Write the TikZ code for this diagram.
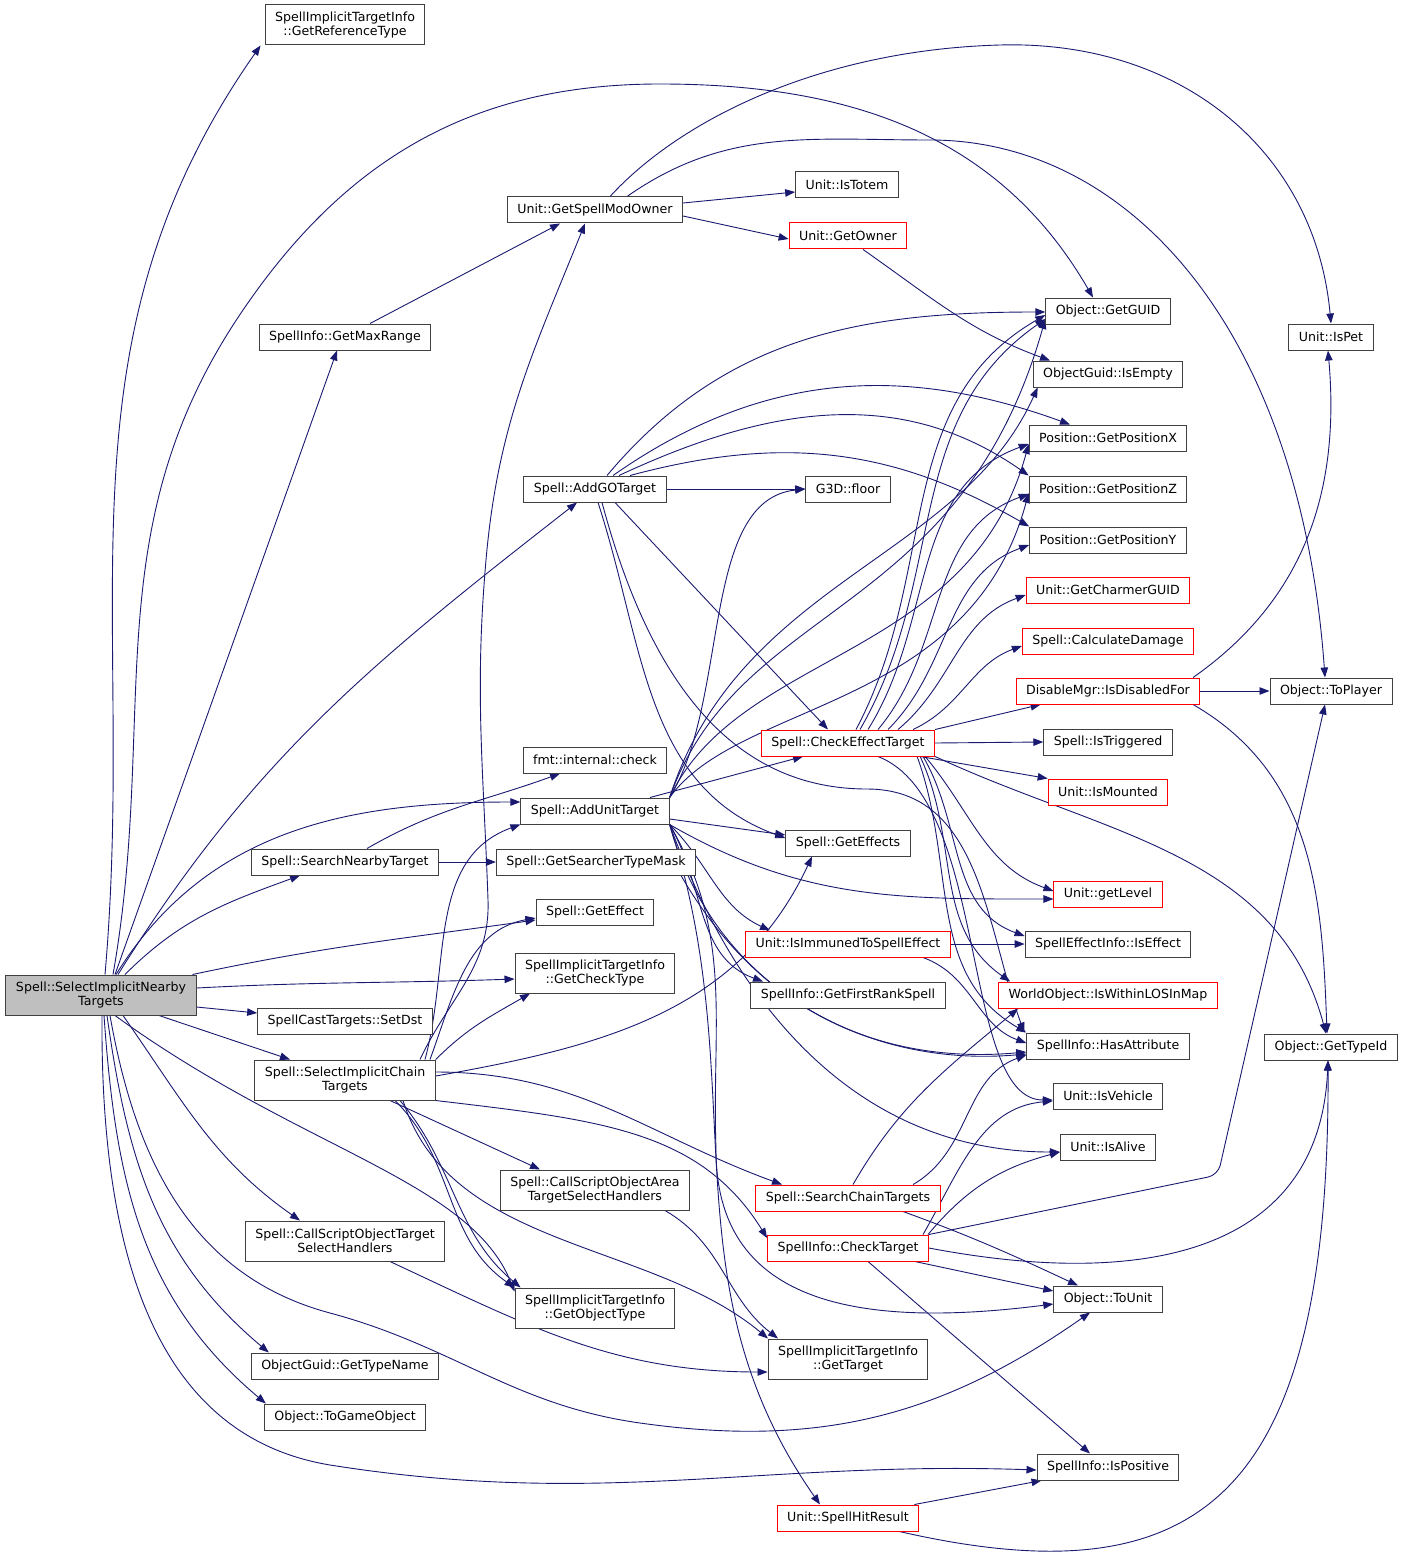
\documentclass[tikz,border=0pt]{standalone}
\usepackage{fontspec}
\setmainfont{DejaVu Sans}
\usetikzlibrary{arrows.meta}
\definecolor{callcol}{RGB}{25,25,112}
\definecolor{boxcol}{RGB}{64,64,64}
\definecolor{selcol}{RGB}{191,191,191}
\pgfdeclarelayer{background}
\pgfsetlayers{background,main}

\begin{document}
\begin{tikzpicture}[
    x=1pt, y=1pt,
    fn/.style={
        draw=boxcol,
        rectangle,
        line width=1pt,
        minimum height=26pt,
        inner xsep=10pt,
        inner ysep=2pt,
        fill=white,
        font=\fontsize{12.6}{14.5}\selectfont
    },
    fnred/.style={fn, draw=red},
    fntwo/.style={fn, align=center, minimum height=40pt},
    call/.style={
        draw=callcol,
        line width=0.9pt,
        -{Triangle[length=10pt,width=7.5pt]}
    },
    every edge/.style={call}
]
\useasboundingbox (0,0) rectangle (1404,-1554);

% Functions
\node[fntwo, fill=selcol] (nearby) at (101,-995) {Spell::SelectImplicitNearby\\Targets};

\node[fntwo] (refType) at (345,-25) {SpellImplicitTargetInfo\\::GetReferenceType};
\node[fn] (maxRange) at (345,-337) {SpellInfo::GetMaxRange};
\node[fn] (searchNearby) at (345,-862) {Spell::SearchNearbyTarget};
\node[fn] (setDst) at (345,-1021) {SpellCastTargets::SetDst};
\node[fntwo] (chainTargets) at (345,-1080) {Spell::SelectImplicitChain\\Targets};
\node[fntwo] (scriptTarget) at (345,-1241) {Spell::CallScriptObjectTarget\\SelectHandlers};
\node[fn] (typeName) at (345,-1366) {ObjectGuid::GetTypeName};
\node[fn] (toGameObject) at (345,-1417) {Object::ToGameObject};

\node[fn] (modOwner) at (595,-210) {Unit::GetSpellModOwner};
\node[fn] (addGO) at (595,-489) {Spell::AddGOTarget};
\node[fn] (fmtCheck) at (595,-760) {fmt::internal::check};
\node[fn] (addUnit) at (595,-811) {Spell::AddUnitTarget};
\node[fn] (searcherMask) at (596,-862) {Spell::GetSearcherTypeMask};
\node[fn] (getEffect) at (595,-912) {Spell::GetEffect};
\node[fntwo] (checkType) at (595,-973) {SpellImplicitTargetInfo\\::GetCheckType};
\node[fntwo] (scriptArea) at (595,-1190) {Spell::CallScriptObjectArea\\TargetSelectHandlers};
\node[fntwo] (objectType) at (595,-1308) {SpellImplicitTargetInfo\\::GetObjectType};

\node[fn] (isTotem) at (847,-185) {Unit::IsTotem};
\node[fnred] (getOwner) at (848,-236) {Unit::GetOwner};
\node[fn] (floor) at (848,-489) {G3D::floor};
\node[fnred] (checkEffect) at (848,-743) {Spell::CheckEffectTarget};
\node[fn] (getEffects) at (848,-843) {Spell::GetEffects};
\node[fnred] (isImmuned) at (848,-944) {Unit::IsImmunedToSpellEffect};
\node[fn] (firstRank) at (848,-995) {SpellInfo::GetFirstRankSpell};
\node[fnred] (searchChain) at (848,-1198) {Spell::SearchChainTargets};
\node[fnred] (checkTarget) at (848,-1248) {SpellInfo::CheckTarget};
\node[fntwo] (getTarget) at (848,-1359) {SpellImplicitTargetInfo\\::GetTarget};
\node[fnred] (hitResult) at (848,-1518) {Unit::SpellHitResult};

\node[fn] (getGUID) at (1108,-311) {Object::GetGUID};
\node[fn] (isEmpty) at (1108,-374) {ObjectGuid::IsEmpty};
\node[fn] (posX) at (1108,-438) {Position::GetPositionX};
\node[fn] (posZ) at (1108,-489) {Position::GetPositionZ};
\node[fn] (posY) at (1108,-540) {Position::GetPositionY};
\node[fnred] (charmer) at (1108,-590) {Unit::GetCharmerGUID};
\node[fnred] (calcDamage) at (1108,-641) {Spell::CalculateDamage};
\node[fnred] (disabledFor) at (1108,-691) {DisableMgr::IsDisabledFor};
\node[fn] (isTriggered) at (1108,-742) {Spell::IsTriggered};
\node[fnred] (isMounted) at (1108,-792) {Unit::IsMounted};
\node[fnred] (getLevel) at (1108,-894) {Unit::getLevel};
\node[fn] (isEffect) at (1108,-944) {SpellEffectInfo::IsEffect};
\node[fnred] (losInMap) at (1108,-995) {WorldObject::IsWithinLOSInMap};
\node[fn] (hasAttr) at (1108,-1046) {SpellInfo::HasAttribute};
\node[fn] (isVehicle) at (1108,-1096) {Unit::IsVehicle};
\node[fn] (isAlive) at (1108,-1147) {Unit::IsAlive};
\node[fn] (toUnit) at (1108,-1299) {Object::ToUnit};
\node[fn] (isPositive) at (1108,-1467) {SpellInfo::IsPositive};

\node[fn] (isPet) at (1331,-337) {Unit::IsPet};
\node[fn] (toPlayer) at (1331,-691) {Object::ToPlayer};
\node[fn] (typeId) at (1331,-1047) {Object::GetTypeId};

% Calls
\begin{pgfonlayer}{background}
\path
  ([xshift=4pt]nearby.north) edge[out=85,in=235] ([xshift=-4pt]refType.south west)
  ([xshift=14pt]nearby.north) edge ([xshift=-8pt]maxRange.south)
  ([xshift=17pt]nearby.north) edge[out=58,in=218] ([xshift=-18pt]addGO.south)
  ([xshift=15pt]nearby.north) edge[out=58,in=180] ([yshift=9pt]addUnit.west)
  ([xshift=24pt]nearby.north) edge[out=45,in=200] ([xshift=-45pt]searchNearby.south)
  ([xshift=-4pt]nearby.north east) edge[out=12,in=188] ([yshift=-8pt]getEffect.west)
  ([yshift=7pt]nearby.east) edge[out=3,in=182] ([yshift=-6pt]checkType.west)
  ([yshift=-12pt]nearby.east) edge ([yshift=8pt]setDst.west)
  ([xshift=58pt]nearby.south) edge ([xshift=-55pt]chainTargets.north)
  ([xshift=22pt]nearby.south) edge[out=-55,in=145] ([xshift=-45pt]scriptTarget.north)
  ([xshift=6pt]nearby.south) edge[out=-82,in=140] ([xshift=18pt]typeName.north west)
  ([xshift=3pt]nearby.south) edge[out=-86,in=140] ([xshift=2pt]toGameObject.north west);
\draw[call] ([xshift=12pt]nearby.north) to[out=80,in=-124] (241,-313)
  to[out=56,in=180] (660,-84) to[out=0,in=120] ([xshift=-15pt]getGUID.north);
\draw[call] ([xshift=14pt]nearby.south) .. controls (300,-1150) and (470,-1180) .. ([yshift=-4pt]objectType.north west);
\draw[call] ([xshift=9pt]nearby.south) to[out=-80,in=165] (330,-1313)
  to[out=-15,in=172] (640,-1423) to[out=-8,in=215] ([xshift=-18pt]toUnit.south);
\draw[call] ([xshift=1pt]nearby.south) .. controls (100,-1300) and (180,-1440) .. (330,-1465)
  to[out=-9,in=178] ([yshift=-3pt]isPositive.west);

\path
  ([yshift=7pt]modOwner.east) edge ([yshift=-7pt]isTotem.west)
  ([yshift=-6pt]modOwner.east) edge ([yshift=-3pt]getOwner.west)
  ([xshift=25pt]maxRange.north) edge ([xshift=-35pt]modOwner.south)
  ([xshift=15pt]getOwner.south) edge[out=-35,in=160] ([xshift=-58pt]isEmpty.north);
\draw[call] ([xshift=15pt]modOwner.north) .. controls (680,-120) and (820,-50) .. (1000,-45)
  .. controls (1180,-40) and (1315,-150) .. (isPet.north);
\draw[call] ([xshift=32pt]modOwner.north) to[out=35,in=180] (930,-140)
  .. controls (1130,-140) and (1300,-330) .. ([xshift=-6pt]toPlayer.north);

\path
  ([xshift=12pt]addGO.north) edge[out=50,in=180] ([yshift=-1pt]getGUID.west)
  ([xshift=18pt]addGO.north) edge[out=35,in=160] ([xshift=-38pt]posX.north)
  ([xshift=24pt]addGO.north) edge[out=25,in=145] (posZ.north west)
  ([xshift=35pt]addGO.north) edge[out=15,in=150] (posY.north west)
  (addGO.east) edge (floor.west)
  ([xshift=20pt]addGO.south) edge ([xshift=-20pt]checkEffect.north)
  ([xshift=3pt]addGO.south) edge[out=-72,in=160] ([yshift=5pt]getEffects.west);
\draw[call] ([xshift=7pt]addGO.south) to[out=-75,in=180] (867,-789)
  to[out=0,in=110] ([xshift=-2pt]hasAttr.north west);

\path
  ([xshift=55pt]addUnit.north) edge ([xshift=-45pt]checkEffect.south)
  ([yshift=-8pt]addUnit.east) edge ([yshift=8pt]getEffects.west)
  (addUnit.south east) edge[out=-30,in=180] ([yshift=-5pt]getLevel.west)
  (addUnit.south east) edge[out=-45,in=155] ([xshift=-78pt]isImmuned.north)
  (addUnit.south east) edge[out=-60,in=160] ([xshift=-85pt]firstRank.north)
  (addUnit.south east) edge[out=-75,in=185] ([yshift=-8pt]hasAttr.west)
  (addUnit.south east) edge[out=-70,in=180] ([yshift=-5pt]isAlive.west)
  (addUnit.south east) edge[out=-72,in=125] ([xshift=-28pt]hitResult.north);
\draw[call] (addUnit.south east) to[out=-60,in=92] (716,-1150)
  .. controls (716,-1300) and (850,-1330) .. ([yshift=-5pt]toUnit.west);
\draw[call] (addUnit.north east) .. controls (730,-700) and (700,-500) .. (floor.west);
\draw[call] (addUnit.north east) .. controls (740,-580) and (960,-560) .. ([xshift=5pt]isEmpty.south west);
\draw[call] (addUnit.north east) .. controls (740,-600) and (960,-620) .. ([yshift=-8pt]getGUID.west);
\draw[call] (addUnit.north east) .. controls (740,-650) and (970,-660) .. ([yshift=-6pt]posX.west);
\draw[call] (addUnit.north east) .. controls (740,-700) and (970,-710) .. ([yshift=-4pt]posZ.west);

\path
  ([xshift=22pt]searchNearby.north) edge[out=30,in=200] ([xshift=-35pt]fmtCheck.south)
  (searchNearby.east) edge (searcherMask.west)
  ([xshift=85pt]searcherMask.south) edge[out=-60,in=185] ([yshift=-6pt]hasAttr.west);

\draw[call] ([xshift=75pt]chainTargets.north) to[out=65,in=-88] (488,-900)
  to[out=92,in=-95] (486,-560) to[out=85,in=-112] ([xshift=-10pt]modOwner.south);
\path
  ([xshift=80pt]chainTargets.north) edge[out=75,in=200] (addUnit.south west)
  ([xshift=85pt]chainTargets.north) edge[out=70,in=190] ([yshift=-6pt]getEffect.west)
  (chainTargets.north east) edge[out=45,in=210] ([xshift=-65pt]checkType.south)
  ([yshift=4pt]chainTargets.east) edge[out=10,in=245] ([xshift=-36pt]getEffects.south)
  ([yshift=8pt]chainTargets.east) edge[out=0,in=160] ([xshift=-66pt]searchChain.north)
  ([xshift=45pt]chainTargets.south) edge ([xshift=-55pt]scriptArea.north)
  ([xshift=50pt]chainTargets.south) edge[out=-45,in=145] (objectType.north west)
  ([xshift=55pt]chainTargets.south) edge[out=-50,in=140] ([xshift=6pt]objectType.north west)
  ([xshift=70pt]scriptArea.south) edge[out=-30,in=142] ([xshift=-70pt]getTarget.north)
  ([xshift=45pt]scriptTarget.south) edge[out=-25,in=180] ([yshift=-13pt]getTarget.west);
\draw[call] (chainTargets.south east) .. controls (600,-1120) and (700,-1130) .. ([yshift=10pt]checkTarget.west);
\draw[call] ([xshift=58pt]chainTargets.south) .. controls (450,-1250) and (650,-1240) .. ([xshift=-80pt]getTarget.north);

\path
  ([xshift=8pt]checkEffect.north) edge[out=62,in=210] ([yshift=-4pt]getGUID.west)
  ([xshift=12pt]checkEffect.north) edge[out=60,in=215] ([yshift=-8pt]getGUID.west)
  ([xshift=20pt]checkEffect.north) edge[out=58,in=200] ([yshift=-6pt]posX.west)
  ([xshift=30pt]checkEffect.north) edge[out=50,in=200] ([yshift=-5pt]posZ.west)
  ([xshift=40pt]checkEffect.north) edge[out=45,in=200] ([yshift=-5pt]posY.west)
  ([xshift=50pt]checkEffect.north) edge[out=40,in=200] ([yshift=-5pt]charmer.west)
  ([xshift=65pt]checkEffect.north) edge[out=25,in=200] ([yshift=-5pt]calcDamage.west)
  (checkEffect.north east) edge ([xshift=25pt]disabledFor.south west)
  (checkEffect.east) edge (isTriggered.west)
  ([xshift=-15pt]checkEffect.south east) edge (isMounted.north west)
  ([xshift=-10pt]checkEffect.south east) edge[out=-50,in=160] ([yshift=3pt]getLevel.west)
  ([xshift=-12pt]checkEffect.south east) edge[out=-60,in=160] ([yshift=8pt]isEffect.west)
  ([xshift=-15pt]checkEffect.south east) edge[out=-65,in=145] ([xshift=12pt]losInMap.north west)
  ([xshift=-18pt]checkEffect.south east) edge[out=-70,in=150] (hasAttr.north west)
  (checkEffect.south east) edge[out=-25,in=105] ([xshift=-5pt]typeId.north);
\draw[call] ([xshift=30pt]checkEffect.south) .. controls (990,-800) and (960,-1100) .. ([yshift=-4pt]isVehicle.west);

\path
  (isImmuned.east) edge (isEffect.west)
  ([xshift=75pt]isImmuned.south) edge[out=-20,in=160] ([yshift=3pt]hasAttr.west)
  (disabledFor.east) edge (toPlayer.west)
  ([xshift=85pt]disabledFor.north) edge[out=35,in=-85] ([xshift=-3pt]isPet.south)
  ([xshift=85pt]disabledFor.south) edge[out=-30,in=92] ([xshift=-4pt]typeId.north)
  ([xshift=5pt]searchChain.north) edge[out=60,in=220] ([xshift=20pt]losInMap.south west)
  ([xshift=65pt]searchChain.north) edge[out=30,in=200] ([yshift=-9pt]hasAttr.west)
  ([xshift=55pt]searchChain.south) edge[out=-20,in=155] ([xshift=-30pt]toUnit.north)
  ([xshift=75pt]checkTarget.north) edge[out=60,in=185] ([yshift=-5pt]isVehicle.west)
  ([xshift=80pt]checkTarget.north) edge[out=50,in=195] ([yshift=-5pt]isAlive.west)
  ([xshift=-14pt]checkTarget.south east) edge ([yshift=8pt]toUnit.west)
  ([xshift=20pt]checkTarget.south) edge ([xshift=-18pt]isPositive.north)
  ([xshift=-5pt]hitResult.north east) edge ([xshift=5pt]isPositive.south west);
\draw[call, rounded corners=10pt] (checkTarget.north east) -- (1218,-1175) -- ([xshift=-6pt]toPlayer.south);
\draw[call] (checkTarget.east) .. controls (1150,-1290) and (1320,-1250) .. ([xshift=-3pt]typeId.south);
\draw[call] ([xshift=-20pt]hitResult.south east) .. controls (1200,-1600) and (1330,-1500) .. ([xshift=-3pt]typeId.south);
\end{pgfonlayer}
\end{tikzpicture}
\end{document}
